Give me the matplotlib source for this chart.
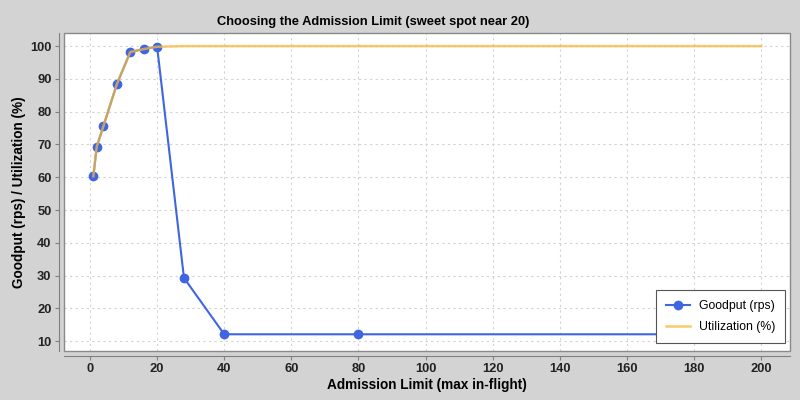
import matplotlib
matplotlib.use("Agg")
import matplotlib.pyplot as plt
from matplotlib.patches import Rectangle

plt.rcParams["font.family"] = ["Liberation Sans", "DejaVu Sans"]

# admission limit (max in-flight) and measured series
limits = [1, 2, 4, 8, 12, 16, 20, 28, 40, 80, 200]
goodput = [60.3, 69.3, 75.6, 88.4, 98.2, 99.1, 99.8, 29.3, 12.1, 12.1, 12.1]
util_limits = [1, 2, 4, 8, 12, 16, 20, 28, 40, 80, 200]
utilization = [60.3, 69.3, 75.6, 88.4, 98.2, 99.1, 99.8, 100.0, 100.0, 100.0, 100.0]

xticks = list(range(0, 201, 20))
yticks = list(range(10, 101, 10))

fig = plt.figure(figsize=(8, 4), dpi=100, facecolor="#d3d3d3")
ax = fig.add_axes([0.08, 0.1225, 0.9075, 0.795])
ax.set_facecolor("white")

ax.plot(limits, goodput, "-o", color="#3f66e0", lw=1.5, ms=6,
        label="Goodput (rps)", zorder=3)
ax.plot(util_limits, utilization, "-", color="#f5b93c", lw=1.8, alpha=0.75,
        label="Utilization (%)", zorder=4)

ax.set_xlim(-7.75, 208.6)
ax.set_ylim(7.0, 104.0)
ax.set_xticks(xticks)
ax.set_yticks(yticks)
ax.grid(True, color="#d2d2d2", ls=(0, (2, 3)), lw=0.8)

for s in ["top", "right"]:
    ax.spines[s].set_visible(False)
for s in ["left", "bottom"]:
    ax.spines[s].set_position(("outward", 3.5))
    ax.spines[s].set_color("#808080")
ax.add_patch(Rectangle((0, 0), 1, 1, transform=ax.transAxes, fill=False,
                       edgecolor="#8a8a8a", lw=1.0, clip_on=False, zorder=5))
ax.tick_params(colors="#808080", labelcolor="#222222", length=3, pad=2.5,
               labelsize=9.3)
for lab in ax.get_xticklabels() + ax.get_yticklabels():
    lab.set_fontweight("bold")

ax.set_xlabel("Admission Limit (max in-flight)", fontsize=9.8, fontweight="bold", labelpad=2)
ax.set_ylabel("Goodput (rps) / Utilization (%)", fontsize=9.8, fontweight="bold", labelpad=3)
fig.text(373 / 800, 1 - 22 / 400, "Choosing the Admission Limit (sweet spot near 20)",
         fontsize=9.3, fontweight="bold", ha="center", va="center")

leg = ax.legend(loc="lower right", fontsize=8.8, fancybox=False, framealpha=1,
                edgecolor="#555555", borderpad=0.8, labelspacing=0.75,
                handlelength=2.0, handletextpad=0.7, borderaxespad=0,
                bbox_to_anchor=(0.9931, 0.025))
leg.get_frame().set_linewidth(0.8)

fig.savefig("out.png", dpi=100, facecolor=fig.get_facecolor())
